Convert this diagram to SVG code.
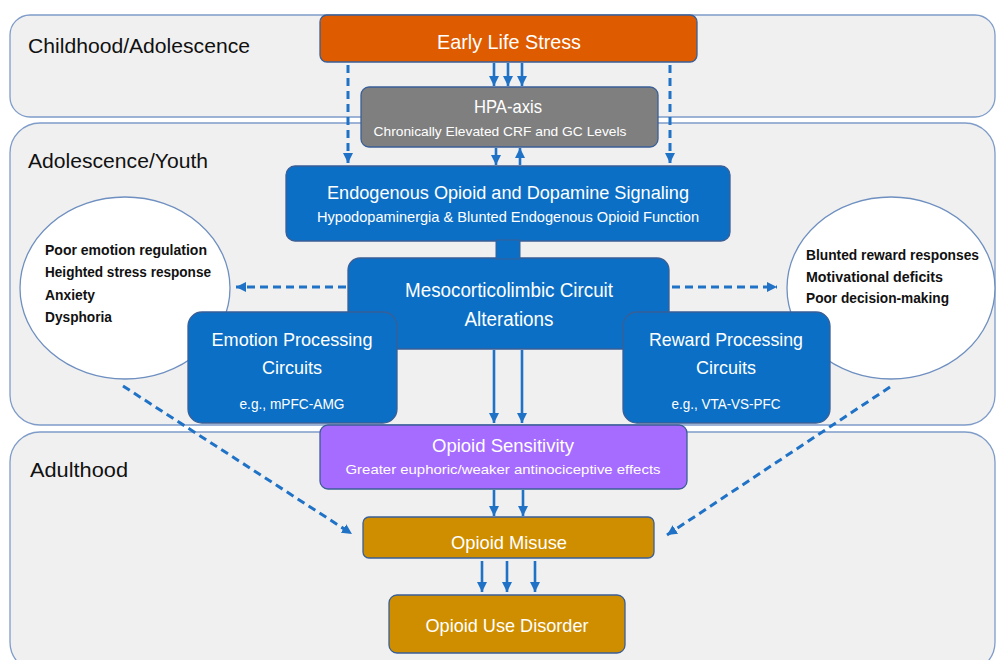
<svg xmlns="http://www.w3.org/2000/svg" width="996" height="660" viewBox="0 0 996 660">
<defs>
<style>
.band{fill:#f0f0f0;stroke:#7f9cc9;stroke-width:1.3}
.lbl{font-family:"Liberation Sans",Arial,sans-serif;font-size:21px;fill:#111}
.box{stroke:#3a5f96;stroke-width:1.3}
.blue{fill:#0b6fc6}
.t{font-family:"Liberation Sans",Arial,sans-serif;fill:#fff;text-anchor:middle}
.tt{font-size:19px}
.st{font-size:13.5px}
.ell{fill:#fff;stroke:#6e8fc0;stroke-width:1.3}
.et{font-family:"Liberation Sans",Arial,sans-serif;font-size:14px;font-weight:bold;fill:#111}
.sol{stroke:#1f72c6;stroke-width:2.6;fill:none}
.dash{stroke:#1f72c6;stroke-width:3;fill:none;stroke-dasharray:8 5}
</style>
<marker id="ah" viewBox="0 0 10 10" refX="10" refY="5" markerWidth="10" markerHeight="10" markerUnits="userSpaceOnUse" orient="auto">
<path d="M0,0 L10,5 L0,10 z" fill="#1f72c6"/>
</marker>
</defs>

<g id="bands">
<rect class="band" x="10" y="15" width="985" height="102" rx="20"/>
<rect class="band" x="10" y="123" width="985" height="302" rx="30"/>
<rect class="band" x="10" y="432" width="985" height="240" rx="30"/>
<text class="lbl" x="28" y="53" textLength="222" lengthAdjust="spacingAndGlyphs">Childhood/Adolescence</text>
<text class="lbl" x="28" y="168" textLength="180" lengthAdjust="spacingAndGlyphs">Adolescence/Youth</text>
<text class="lbl" x="30" y="477" textLength="98" lengthAdjust="spacingAndGlyphs">Adulthood</text>
</g>

<g id="emotion-outcomes">
<ellipse class="ell" cx="125" cy="288" rx="105" ry="91"/>
<text class="et" x="45" y="255" textLength="162" lengthAdjust="spacingAndGlyphs">Poor emotion regulation</text>
<text class="et" x="45" y="277" textLength="166" lengthAdjust="spacingAndGlyphs">Heighted stress response</text>
<text class="et" x="45" y="300" textLength="50" lengthAdjust="spacingAndGlyphs">Anxiety</text>
<text class="et" x="45" y="322" textLength="67" lengthAdjust="spacingAndGlyphs">Dysphoria</text>
</g>

<g id="reward-outcomes">
<ellipse class="ell" cx="891" cy="288" rx="104" ry="91"/>
<text class="et" x="806" y="260" textLength="173" lengthAdjust="spacingAndGlyphs">Blunted reward responses</text>
<text class="et" x="806" y="282" textLength="137" lengthAdjust="spacingAndGlyphs">Motivational deficits</text>
<text class="et" x="806" y="303" textLength="143" lengthAdjust="spacingAndGlyphs">Poor decision-making</text>
</g>

<g id="early-life-stress">
<rect class="box" x="320" y="15" width="377" height="47" rx="7" fill="#df5b00"/>
<text class="t" x="509" y="49" font-size="21" textLength="144" lengthAdjust="spacingAndGlyphs">Early Life Stress</text>
</g>

<g id="hpa-axis">
<rect class="box" x="361" y="87" width="297" height="60" rx="8" fill="#7f7f7f"/>
<text class="t tt" x="508" y="113" textLength="68" lengthAdjust="spacingAndGlyphs">HPA-axis</text>
<text class="t st" x="500" y="136" textLength="253" lengthAdjust="spacingAndGlyphs">Chronically Elevated CRF and GC Levels</text>
</g>

<g id="endogenous">
<rect class="box blue" x="286" y="166" width="444" height="75" rx="9"/>
<text class="t tt" x="508" y="199" textLength="362" lengthAdjust="spacingAndGlyphs">Endogenous Opioid and Dopamine Signaling</text>
<text class="t" x="508" y="222" font-size="14.5" textLength="382" lengthAdjust="spacingAndGlyphs">Hypodopaminergia &amp; Blunted Endogenous Opioid Function</text>
</g>

<g id="mesocorticolimbic">
<rect class="box blue" x="348" y="258" width="321" height="91" rx="12"/>
<text class="t" x="509" y="297" font-size="20" textLength="208" lengthAdjust="spacingAndGlyphs">Mesocorticolimbic Circuit</text>
<text class="t" x="509" y="326" font-size="20" textLength="89" lengthAdjust="spacingAndGlyphs">Alterations</text>
</g>

<g id="emotion-processing">
<rect class="box blue" x="188" y="312" width="209" height="111" rx="14"/>
<text class="t tt" x="292" y="346" textLength="161" lengthAdjust="spacingAndGlyphs">Emotion Processing</text>
<text class="t tt" x="292" y="374" textLength="60" lengthAdjust="spacingAndGlyphs">Circuits</text>
<text class="t" x="292" y="409" font-size="14" textLength="105" lengthAdjust="spacingAndGlyphs">e.g., mPFC-AMG</text>
</g>

<g id="reward-processing">
<rect class="box blue" x="623" y="312" width="207" height="111" rx="14"/>
<text class="t tt" x="726" y="346" textLength="154" lengthAdjust="spacingAndGlyphs">Reward Processing</text>
<text class="t tt" x="726" y="374" textLength="60" lengthAdjust="spacingAndGlyphs">Circuits</text>
<text class="t" x="726" y="409" font-size="14" textLength="109" lengthAdjust="spacingAndGlyphs">e.g., VTA-VS-PFC</text>
</g>

<g id="opioid-sensitivity">
<rect class="box" x="320" y="425" width="367" height="64" rx="8" fill="#a66bff"/>
<text class="t tt" x="503" y="452" textLength="142" lengthAdjust="spacingAndGlyphs">Opioid Sensitivity</text>
<text class="t st" x="503" y="474" textLength="315" lengthAdjust="spacingAndGlyphs">Greater euphoric/weaker antinociceptive effects</text>
</g>

<g id="opioid-misuse">
<rect class="box" x="363" y="517" width="291" height="41" rx="6" fill="#cf8e00"/>
<text class="t tt" x="509" y="549" textLength="116" lengthAdjust="spacingAndGlyphs">Opioid Misuse</text>
</g>

<g id="opioid-use-disorder">
<rect class="box" x="389" y="595" width="236" height="58" rx="8" fill="#cf8e00"/>
<text class="t tt" x="507" y="632" textLength="163" lengthAdjust="spacingAndGlyphs">Opioid Use Disorder</text>
</g>

<g id="connectors">
<line class="sol" x1="494" y1="63" x2="494" y2="86" marker-end="url(#ah)"/>
<line class="sol" x1="508" y1="63" x2="508" y2="86" marker-end="url(#ah)"/>
<line class="sol" x1="522" y1="63" x2="522" y2="86" marker-end="url(#ah)"/>
<line class="sol" x1="496" y1="148" x2="496" y2="165" marker-end="url(#ah)"/>
<line class="sol" x1="520" y1="165" x2="520" y2="148" marker-end="url(#ah)"/>
<line class="dash" x1="348" y1="65" x2="348" y2="163" marker-end="url(#ah)"/>
<line class="dash" x1="670" y1="65" x2="670" y2="163" marker-end="url(#ah)"/>
<rect x="496" y="240" width="24" height="19" fill="#0b6fc6" stroke="#3a5f96" stroke-width="1"/>
<line class="dash" x1="346" y1="287" x2="236" y2="287" marker-end="url(#ah)"/>
<line class="dash" x1="672" y1="287" x2="777" y2="287" marker-end="url(#ah)"/>
<line class="sol" x1="494" y1="350" x2="494" y2="423" marker-end="url(#ah)"/>
<line class="sol" x1="522" y1="350" x2="522" y2="423" marker-end="url(#ah)"/>
<line class="sol" x1="494" y1="490" x2="494" y2="516" marker-end="url(#ah)"/>
<line class="sol" x1="523" y1="490" x2="523" y2="516" marker-end="url(#ah)"/>
<line class="sol" x1="482" y1="561" x2="482" y2="592" marker-end="url(#ah)"/>
<line class="sol" x1="507" y1="561" x2="507" y2="592" marker-end="url(#ah)"/>
<line class="sol" x1="535" y1="561" x2="535" y2="592" marker-end="url(#ah)"/>
<line class="dash" x1="123" y1="386" x2="352" y2="534" marker-end="url(#ah)"/>
<line class="dash" x1="890" y1="387" x2="667" y2="535" marker-end="url(#ah)"/>
</g>
</svg>
